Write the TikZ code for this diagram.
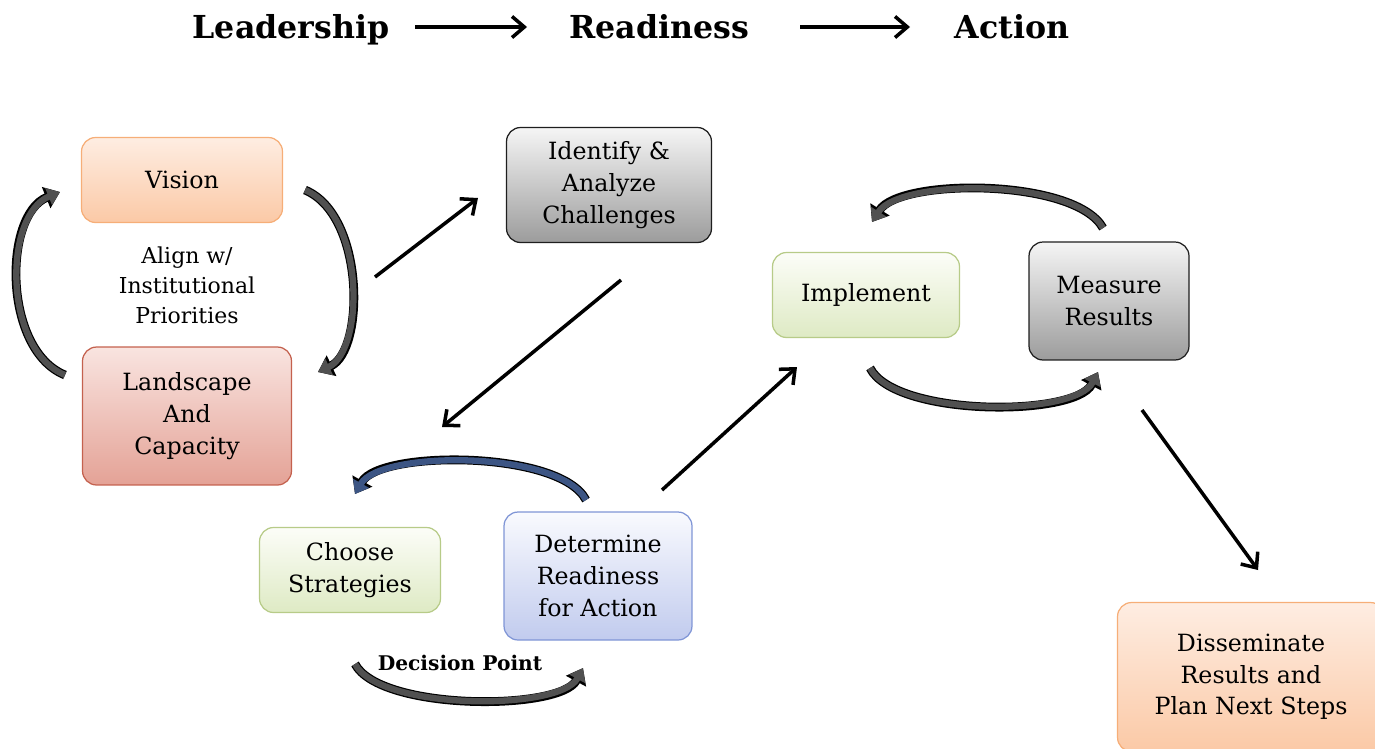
\documentclass[tikz,border=0pt]{standalone}
\usepackage{fontspec}
\setmainfont{DejaVu Serif}
\usetikzlibrary{arrows.meta}

\definecolor{orangeline}{HTML}{F6AE78}
\definecolor{orangetop}{HTML}{FEEDE2}
\definecolor{orangebot}{HTML}{FBC9A6}
\definecolor{redline}{HTML}{C4614E}
\definecolor{redtop}{HTML}{F9E4E0}
\definecolor{redbot}{HTML}{E4A296}
\definecolor{grayline}{HTML}{1E1E1E}
\definecolor{graytop}{HTML}{F5F5F5}
\definecolor{graybot}{HTML}{9C9C9C}
\definecolor{greenline}{HTML}{B7CB88}
\definecolor{greentop}{HTML}{FCFDF8}
\definecolor{greenbot}{HTML}{DEEAC4}
\definecolor{blueline}{HTML}{7F95D6}
\definecolor{bluetop}{HTML}{F9FAFE}
\definecolor{bluebot}{HTML}{C1CBEE}
\definecolor{cyclegray}{HTML}{505050}
\definecolor{cycleblue}{HTML}{3C5584}

\begin{document}
\begin{tikzpicture}[x=0.02cm, y=-0.02cm,
    box/.style={draw, rounded corners=8pt, line width=0.7pt, align=center,
      inner sep=0pt, font=\fontsize{13.5}{18}\selectfont},
    orangebox/.style={box, draw=orangeline, top color=orangetop, bottom color=orangebot},
    redbox/.style={box, draw=redline, top color=redtop, bottom color=redbot},
    graybox/.style={box, draw=grayline, top color=graytop, bottom color=graybot},
    greenbox/.style={box, draw=greenline, top color=greentop, bottom color=greenbot},
    bluebox/.style={box, draw=blueline, top color=bluetop, bottom color=bluebot},
    phase/.style={anchor=base, font=\fontsize{18}{21}\selectfont\bfseries},
    flow/.style={line width=2pt, -{Straight Barb[length=7pt,width=12pt]}},
    cycle/.style={draw=#1, line width=3.6pt, -{Triangle[length=7pt,width=10pt]},
      preaction={draw=black, line width=5pt, -{Triangle[length=8.5pt,width=12.5pt]}}},
    cycle/.default=cyclegray
  ]
    \useasboundingbox (0,0) rectangle (1375,748);

    % Phases
    \node[phase] (lead) at (291,38) {Leadership};
    \node[phase] (ready) at (659,38) {Readiness};
    \node[phase] (act) at (1012,38) {Action};
    \coordinate (l1) at (415,27);
    \coordinate (l2) at (527,27);
    \coordinate (r1) at (800,27);
    \coordinate (r2) at (910,27);
    \draw[flow] (l1) -- (l2);
    \draw[flow] (r1) -- (r2);

    % Leadership
    \node[orangebox, minimum width=4.02cm, minimum height=1.7cm] (vision) at (182,180) {Vision};
    \node[redbox, minimum width=4.18cm, minimum height=2.76cm] (landscape) at (187,416) {Landscape\\And\\Capacity};
    \node[font=\fontsize{12.5}{17}\selectfont, align=center] (align) at (187,285) {Align w/\\Institutional\\Priorities};
    \coordinate (lv1) at (65,375);
    \coordinate (lv2) at (60,192);
    \coordinate (rv1) at (305,190);
    \coordinate (rv2) at (318,372);
    \draw[cycle] (lv1) .. controls (3,350) and (3,215) .. (lv2);
    \draw[cycle] (rv1) .. controls (365,215) and (365,350) .. (rv2);

    % Readiness
    \node[graybox, minimum width=4.1cm, minimum height=2.3cm] (identify) at (609,185) {Identify \&\\Analyze\\Challenges};
    \node[greenbox, minimum width=3.62cm, minimum height=1.7cm] (choose) at (350,570) {Choose\\Strategies};
    \node[bluebox, minimum width=3.76cm, minimum height=2.56cm] (determine) at (598,576) {Determine\\Readiness\\for Action};
    \node[font=\fontsize{11.5}{14}\selectfont\bfseries] (decision) at (460,663) {Decision Point};
    \coordinate (ct1) at (586,500);
    \coordinate (ct2) at (355,494);
    \coordinate (cb1) at (355,664);
    \coordinate (cb2) at (583,668);
    \draw[cycle=cycleblue] (ct1) .. controls (560,450) and (380,450) .. (ct2);
    \draw[cycle] (cb1) .. controls (380,711) and (560,711) .. (cb2);

    % Action
    \node[greenbox, minimum width=3.74cm, minimum height=1.7cm] (implement) at (866,295) {Implement};
    \node[graybox, minimum width=3.2cm, minimum height=2.36cm] (measure) at (1109,301) {Measure\\Results};
    \node[orangebox, minimum width=5.34cm, minimum height=2.98cm] (disseminate) at (1251,677) {Disseminate\\Results and\\Plan Next Steps};
    \coordinate (mt1) at (1103,228);
    \coordinate (mt2) at (872,222);
    \coordinate (mb1) at (870,368);
    \coordinate (mb2) at (1098,372);
    \draw[cycle] (mt1) .. controls (1075,178) and (900,178) .. (mt2);
    \draw[cycle] (mb1) .. controls (895,417) and (1075,417) .. (mb2);

    % Flow between steps
    \coordinate (f1) at (375,277);
    \coordinate (f2) at (478,198);
    \coordinate (f3) at (621,280);
    \coordinate (f4) at (442,427);
    \coordinate (f5) at (662,490);
    \coordinate (f6) at (797,367);
    \coordinate (f7) at (1142,410);
    \coordinate (f8) at (1258,570);
    \draw[flow] (f1) -- (f2);
    \draw[flow] (f3) -- (f4);
    \draw[flow] (f5) -- (f6);
    \draw[flow] (f7) -- (f8);
  \end{tikzpicture}
\end{document}
